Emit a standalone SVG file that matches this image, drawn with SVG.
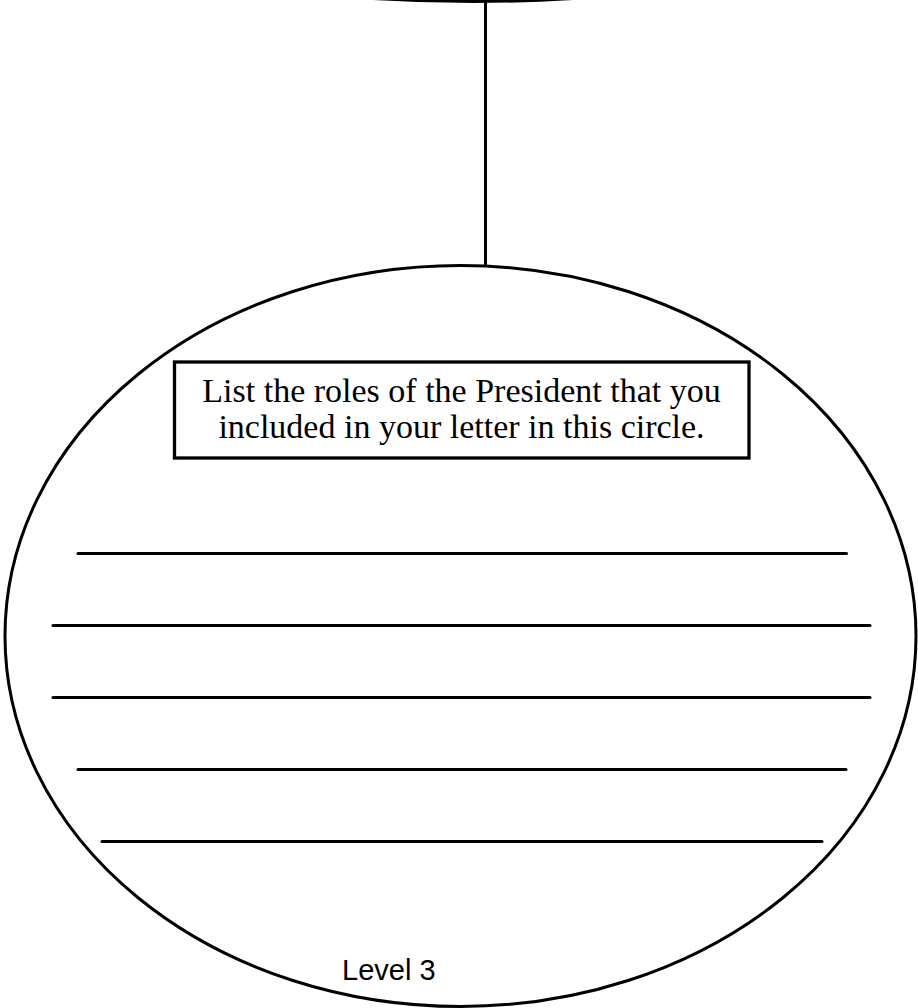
<svg xmlns="http://www.w3.org/2000/svg" width="918" height="1008" viewBox="0 0 918 1008">
<style>
.s{fill:none;stroke:#000;stroke-width:3}
.w{stroke:#000;stroke-width:3;stroke-linecap:round}
.t{font-family:"Liberation Serif","Times New Roman",serif;font-size:34px;fill:#000;text-anchor:middle}
.l{font-family:"Liberation Sans",Arial,sans-serif;font-size:29px;fill:#000}
</style>
<rect width="918" height="1008" fill="#fff"/>
<g id="top-node">
<path class="s" d="M 333 -4.4 Q 473 7.4 613 -4.4"/>
</g>
<g id="connectors">
<line class="s" x1="485.5" y1="0" x2="485.5" y2="266"/>
</g>
<g id="circle-node">
<ellipse class="s" cx="460.5" cy="636" rx="455.5" ry="370.5"/>
<rect x="174.5" y="362" width="574.5" height="96" fill="#fff" stroke="#000" stroke-width="3.3"/>
<text class="t" x="461.5" y="402">List the roles of the President that you</text>
<text class="t" x="461.5" y="438">included in your letter in this circle.</text>
<line class="w" x1="78" y1="553.5" x2="846.5" y2="553.5"/>
<line class="w" x1="53" y1="625.5" x2="870" y2="625.5"/>
<line class="w" x1="53" y1="697.5" x2="870" y2="697.5"/>
<line class="w" x1="78" y1="769.5" x2="846" y2="769.5"/>
<line class="w" x1="102" y1="841.5" x2="822" y2="841.5"/>
<text class="l" x="342" y="980">Level 3</text>
</g>
</svg>
